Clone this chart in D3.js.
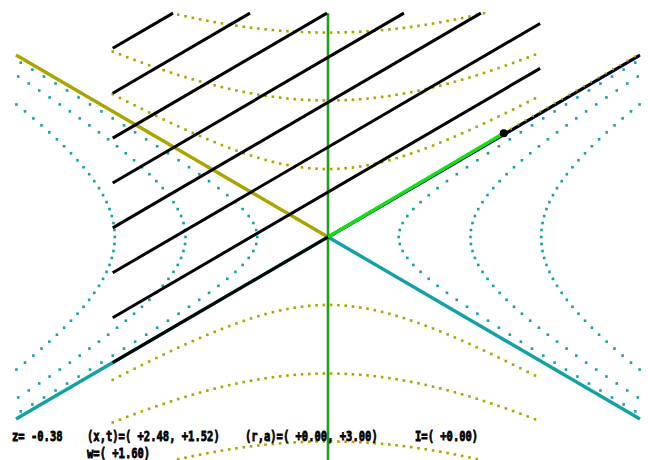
<!DOCTYPE html>
<html>
<head>
<meta charset="utf-8">
<script src="https://cdn.jsdelivr.net/npm/d3@7"></script>
<style>
  body { margin: 0; background: #fff; }
  svg { display: block; }
</style>
</head>
<body>
<script>
// time-like hyperbolas  t^2 - x^2 = r^2 (olive, dotted)
const timeRadii = [1.12, 2.25, 3.37];
// space-like hyperbolas x^2 - t^2 = r^2 (teal, dotted)
const spaceRadii = [0.68, 1.37, 2.05];
// null lines t - x = c (black)
const nullOffsets = [0, 0.74, 1.48, 2.22, 2.96, 3.70, 4.44, 5.18];
// the event vector (x, t)
const vector = [1.69, 1.71];
// readouts under the diagram
const readouts = ['z= -0.38', '(x,t)=( +2.48, +1.52)', '(r,a)=( +0.00, +3.00)', 'I=( +0.00)', 'w=( +1.60)'];

const width = 648, height = 460;
const xMin = -2.07, xMax = 2.04, tTop = 3.69;

const x = d3.scaleLinear().domain([-3, 3]).range([16, 640]);
const t = d3.scaleLinear().domain([-3, 3]).range([419, 55]);
const tBottom = t.invert(height);

const olive = '#aca500', teal = '#12a1a6';

const svg = d3.select('body').append('svg')
  .attr('width', width)
  .attr('height', height);

// sample points along each hyperbola branch
function timeDots(r) {
  const pts = [];
  for (const s of [1, -1]) {
    for (let i = 0; ; i++) {
      const xv = xMin + i * 0.07;
      if (xv > xMax + 1e-9) break;
      const tv = s * Math.sqrt(r * r + xv * xv);
      if (tv <= tTop && tv >= tBottom) pts.push([xv, tv]);
    }
  }
  return pts;
}
function spaceDots(r) {
  const pts = [];
  for (const s of [1, -1]) {
    for (let i = -30; i <= 30; i++) {
      const tv = i * 0.115;
      const xv = s * Math.sqrt(r * r + tv * tv);
      if (Math.abs(xv) <= 3.0 && Math.abs(tv) <= 3.0) pts.push([xv, tv]);
    }
  }
  return pts;
}

const dotSize = 2.6;
function drawDots(g, pts, color) {
  g.selectAll(null)
    .data(pts)
    .enter()
    .append('rect')
    .attr('x', d => x(d[0]) - dotSize / 2)
    .attr('y', d => t(d[1]) - dotSize / 2)
    .attr('width', dotSize)
    .attr('height', dotSize)
    .attr('fill', color);
}

const dots = svg.append('g');
spaceRadii.forEach(r => drawDots(dots, spaceDots(r), teal));
timeRadii.forEach(r => drawDots(dots, timeDots(r), olive));

const line = d3.line().x(d => x(d[0])).y(d => t(d[1]));

// light cone
svg.append('path').attr('d', line([[-3, 3], [0, 0]]))
  .attr('stroke', olive).attr('stroke-width', 3.4).attr('fill', 'none');
svg.append('path').attr('d', line([[-3, -3], [0, 0], [3, -3]]))
  .attr('stroke', teal).attr('stroke-width', 3.4).attr('fill', 'none');
svg.append('path').attr('d', line([[0, 0], [3, 3]]))
  .attr('stroke', '#2a2aff').attr('stroke-width', 1)
  .attr('transform', 'translate(0,1.6)').attr('fill', 'none');

// time axis
svg.append('path').attr('d', line([[0, tTop], [0, tBottom]]))
  .attr('stroke', '#1f9e1f').attr('stroke-width', 2.6).attr('fill', 'none');

// null lines t - x = c
svg.append('g')
  .selectAll('path')
  .data(nullOffsets)
  .enter()
  .append('path')
  .attr('d', c => {
    const right = c === 0 ? 3 : Math.min(xMax, tTop - c);
    return line([[xMin, xMin + c], [right, right + c]]);
  })
  .attr('stroke', '#000')
  .attr('stroke-width', 3)
  .attr('fill', 'none');

// dotted trace along the cone beyond the tip
const trace = [];
for (let i = 0; ; i++) {
  const v = vector[0] + i * 0.07;
  if (v > 3) break;
  trace.push([v, v]);
}
svg.append('g').attr('transform', 'translate(0,-1.6)')
  .selectAll('rect')
  .data(trace)
  .enter()
  .append('rect')
  .attr('x', d => x(d[0]) - 1)
  .attr('y', d => t(d[1]) - 1)
  .attr('width', 2)
  .attr('height', 2)
  .attr('fill', olive);

// event vector
svg.append('path').attr('d', line([[0, 0], vector]))
  .attr('stroke', '#12e012').attr('stroke-width', 3.4).attr('fill', 'none');
svg.append('circle')
  .attr('cx', x(vector[0]))
  .attr('cy', t(vector[1]))
  .attr('r', 4)
  .attr('fill', '#000');

// readouts: narrow, tall, heavy glyphs
const spots = [[12, 441], [87, 441], [245, 441], [415, 441], [87, 458]];
svg.append('g')
  .selectAll('text')
  .data(readouts)
  .enter()
  .append('text')
  .attr('transform', (d, i) => `translate(${spots[i][0]},${spots[i][1]}) scale(1,1.35)`)
  .style('font-family', 'DejaVu Sans Mono, monospace')
  .style('font-weight', 'bold')
  .style('font-size', '10.5px')
  .style('white-space', 'pre')
  .attr('fill', '#000')
  .attr('stroke', '#000')
  .attr('stroke-width', 0.6)
  .text(d => d);
</script>
</body>
</html>
